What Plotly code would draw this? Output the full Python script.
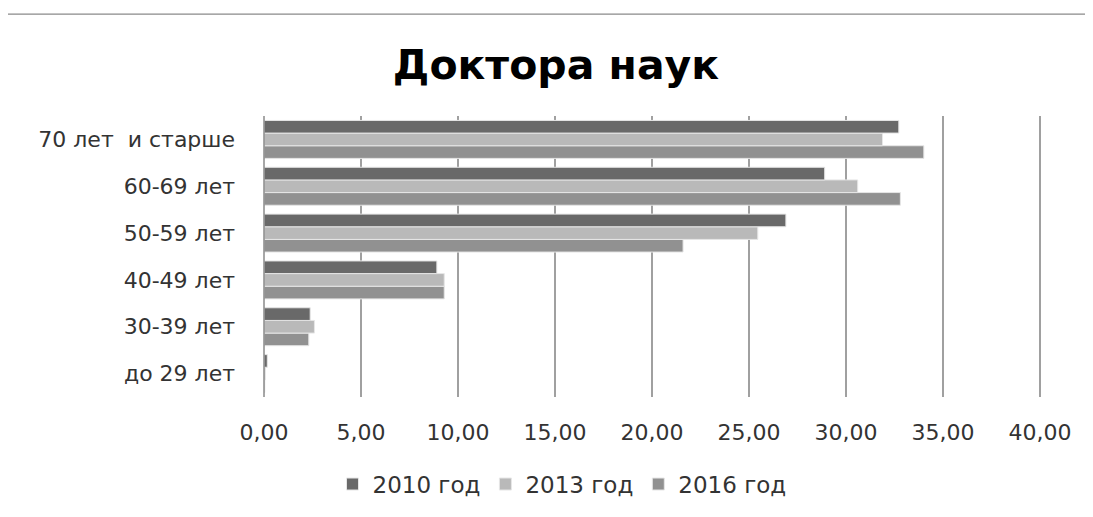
import plotly.graph_objects as go

categories = ["до 29 лет", "30-39 лет", "40-49 лет", "50-59 лет", "60-69 лет", "70 лет  и старше"]
series_names = ["2010 год", "2013 год", "2016 год"]
values_2010 = [0.17, 2.38, 8.91, 26.90, 28.90, 32.72]
values_2013 = [0.07, 2.60, 9.29, 25.45, 30.60, 31.88]
values_2016 = [0.04, 2.31, 9.29, 21.60, 32.80, 34.01]
colors = ["#696969", "#b9b9b9", "#919191"]
x_ticks = [0, 5, 10, 15, 20, 25, 30, 35, 40]

fig = go.Figure()
# add in reverse so 2010 bar is on top of each group
for name, vals, col, rank in [
    (series_names[2], values_2016, colors[2], 3),
    (series_names[1], values_2013, colors[1], 2),
    (series_names[0], values_2010, colors[0], 1),
]:
    fig.add_trace(go.Bar(
        y=categories, x=vals, name=name, orientation="h",
        marker=dict(color=col, line=dict(color="#e6e6e6", width=1)),
        legendrank=rank,
    ))

OFF = 8  # page body offset
W, H = 1093 - OFF, 517 - OFF
L, T = 264 - OFF, 116 - OFF
R = W - (1042 - OFF)
B = H - (400 - OFF)
pw, ph = W - L - R, H - T - B

def px(p):
    return (p - OFF - L) / pw

def py(p):
    return (H - B - (p - OFF)) / ph

FONT = "DejaVu Sans"
fig.update_layout(
    width=W, height=H,
    margin=dict(l=L, r=R, t=T, b=B),
    paper_bgcolor="white", plot_bgcolor="white",
    barmode="group", bargap=0.19, bargroupgap=0,
    separators=", ",
    font=dict(family=FONT, size=22, color="#333"),
    title=dict(text="<b>Доктора наук</b>", xref="paper", x=px(556), xanchor="center",
               yref="container", y=1 - (65 - OFF) / H, yanchor="middle",
               font=dict(family=FONT, size=41, color="#000")),
    legend=dict(orientation="h", x=px(562), xanchor="center",
                y=py(488), yanchor="middle",
                font=dict(size=23, color="#333"), itemwidth=30,
                traceorder="normal"),
    xaxis=dict(range=[0, 40.1], tickvals=x_ticks, tickformat=".2f",
               showgrid=True, gridcolor="#a0a0a0", gridwidth=1.5,
               zeroline=False, showline=False, ticks="",
               tickfont=dict(size=22, color="#333"), ticklabelstandoff=20),
    yaxis=dict(showgrid=False, zeroline=False, showline=False, ticks="",
               tickfont=dict(size=22, color="#333"), ticklabelstandoff=28),
    shapes=[
        dict(type="line", xref="paper", yref="paper", x0=0, x1=0, y0=0, y1=1,
             line=dict(color="#8a8a8a", width=1.5)),
        dict(type="rect", xref="paper", yref="paper",
             x0=px(3), x1=px(1110), y0=py(540), y1=py(13),
             line=dict(color="#8a8a8a", width=1.2), fillcolor="rgba(0,0,0,0)",
             layer="below"),
    ],
)

fig.write_html("out.html")
